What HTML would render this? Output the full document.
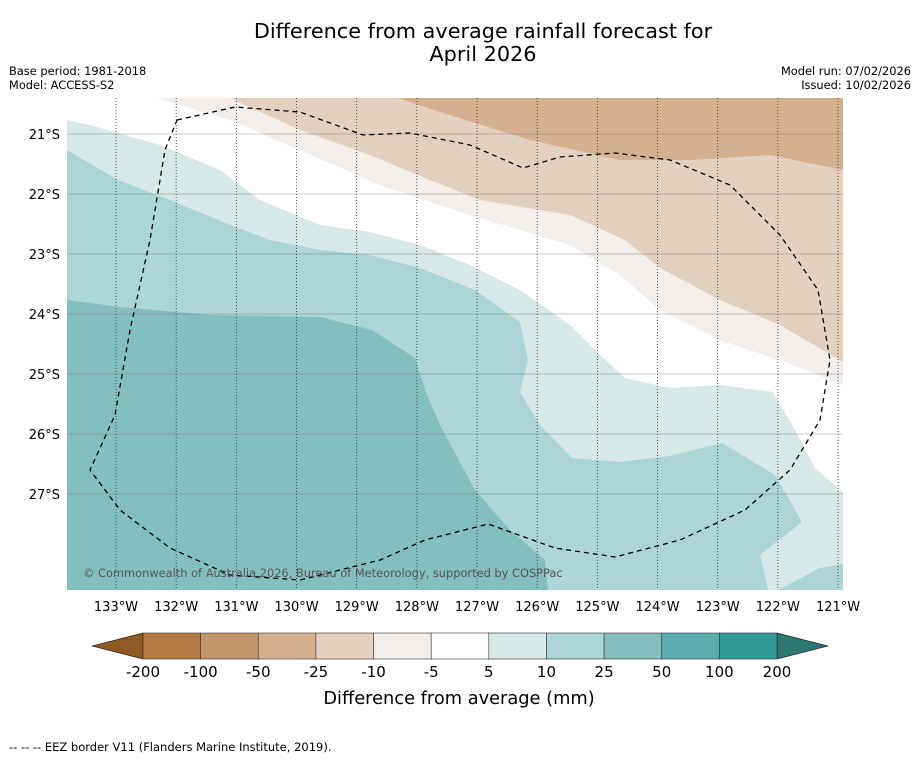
<!DOCTYPE html>
<html><head><meta charset="utf-8"><style>
body{margin:0;background:#fff;font-family:"Liberation Sans","DejaVu Sans",sans-serif}
svg text{font-family:"DejaVu Sans","Liberation Sans",sans-serif}
</style></head><body>
<svg id="c" width="919" height="758" xmlns="http://www.w3.org/2000/svg">
<rect width="919" height="758" fill="#fff"/>
<text x="483" y="38" font-size="20.8" text-anchor="middle">Difference from average rainfall forecast for</text>
<text x="483" y="61" font-size="20.8" text-anchor="middle">April 2026</text>
<text x="9" y="75" font-size="11.4">Base period: 1981-2018</text>
<text x="9" y="89" font-size="11.4">Model: ACCESS-S2</text>
<text x="911" y="75" font-size="11.4" text-anchor="end">Model run: 07/02/2026</text>
<text x="911" y="89" font-size="11.4" text-anchor="end">Issued: 10/02/2026</text>
<defs><clipPath id="mc"><rect x="67" y="98" width="776" height="492"/></clipPath></defs>
<g clip-path="url(#mc)">
<rect x="67" y="98" width="776" height="492" fill="#fff"/>
<path fill="#f2efea" d="M157,98 L230,120 300,150 380,185 470,215 570,245 620,275 660,310 720,340 780,360 843,385 843,98Z"/>
<path fill="#e3d0bf" d="M230,98 L300,130 370,155 430,180 480,200 570,215 625,240 660,268 720,300 780,325 843,362 843,98Z"/>
<path fill="#d4b08e" d="M398,98 L440,112 530,140 620,160 690,160 770,155 843,170 843,98Z"/>
<path fill="#d6e9e8" d="M67,120 L90,125 160,145 220,170 260,200 320,225 370,232 420,245 470,265 520,290 570,325 600,355 625,378 670,388 720,385 773,392 795,430 815,468 843,492 843,590 67,590Z"/>
<path fill="#acd5d5" d="M67,150 L118,180 170,200 230,225 270,240 320,250 370,255 420,268 475,290 520,322 528,360 520,392 540,425 572,458 620,462 670,456 722,443 775,475 802,522 760,555 768,590 67,590Z"/>
<path fill="#acd5d5" d="M778,590 L820,568 843,564 843,590Z"/>
<path fill="#84bfbf" d="M67,300 L120,307 210,315 320,317 372,330 415,358 425,390 440,425 475,490 510,530 545,560 548,590 67,590Z"/>
<g id="grid"></g>
<path fill="none" stroke="#000" stroke-width="1.3" stroke-dasharray="5,4" d="M177,120 L235,107 300,112 363,135 410,133 470,145 523,168 560,157 615,153 670,160 730,185 780,235 818,290 830,360 820,420 790,470 745,510 680,540 615,557 555,548 488,524 425,540 380,560 300,580 230,575 170,548 120,510 90,470 115,415 130,330 150,240 165,150Z"/>
<text x="83" y="577" font-size="11.4" fill="#555">© Commonwealth of Australia 2026, Bureau of Meteorology, supported by COSPPac</text>
</g>
<g id="axes"></g>
<g id="cbar"></g>
<text x="459" y="704" font-size="17.8" text-anchor="middle">Difference from average (mm)</text>
<text x="9" y="751" font-size="11.5">--  --  -- EEZ border V11 (Flanders Marine Institute, 2019).</text>
</svg>
<script>
const lonTicks=[133,132,131,130,129,128,127,126,125,124,123,122,121];
const latTicks=[21,22,23,24,25,26,27];
const cbLevels=["-200","-100","-50","-25","-10","-5","5","10","25","50","100","200"];
const cbColors=["#b07a40","#c3956a","#d4b08e","#e3d0bf","#f2efea","#ffffff","#d6e9e8","#acd5d5","#84bfbf","#5aabab","#329a96"];
const NS="http://www.w3.org/2000/svg";
function xLon(l){return 116+(133-l)*60.17;}
function yLat(l){return 134+(l-21)*60;}
function mk(t,a,p){const e=document.createElementNS(NS,t);for(const k in a)e.setAttribute(k,a[k]);p.appendChild(e);return e;}
const grid=document.getElementById('grid'),axes=document.getElementById('axes'),cb=document.getElementById('cbar');
lonTicks.forEach(l=>{const x=xLon(l);
 const g=mk('line',{x1:x,x2:x,y1:98,y2:590,stroke:'#333','stroke-width':0.8,'stroke-dasharray':'1,2'},grid);
 
 
 const t=mk('text',{x:x,y:611,'font-size':13,'text-anchor':'middle'},axes);t.textContent=l+'°W';
 
 });
latTicks.forEach(l=>{const y=yLat(l);
 const g=mk('line',{x1:67,x2:843,y1:y,y2:y,stroke:'#777','stroke-width':0.6,'stroke-opacity':0.8},grid);
 
 
 const t=mk('text',{x:60,y:y+5,'font-size':13,'text-anchor':'end'},axes);t.textContent=l+'°S';
 
 });
const x0=143,x1=777,y0=633,y1=659,w=(x1-x0)/cbColors.length;
const tl=mk('polygon',{points:`${x0},${y0} 92,646 ${x0},${y1}`,fill:'#8e5a24',stroke:'#000','stroke-width':0.6},cb);


const tr=mk('polygon',{points:`${x1},${y0} 828,646 ${x1},${y1}`,fill:'#2a7773',stroke:'#000','stroke-width':0.6},cb);


cbColors.forEach((c,i)=>{const r=mk('rect',{x:x0+i*w,y:y0,width:w,height:y1-y0,fill:c,stroke:'#333','stroke-width':0.6},cb);
 
 });
cbLevels.forEach((s,i)=>{const t=mk('text',{x:x0+i*w,y:677,'font-size':15,'text-anchor':'middle'},cb);t.textContent=s;
 
 });
</script>
</body></html>
